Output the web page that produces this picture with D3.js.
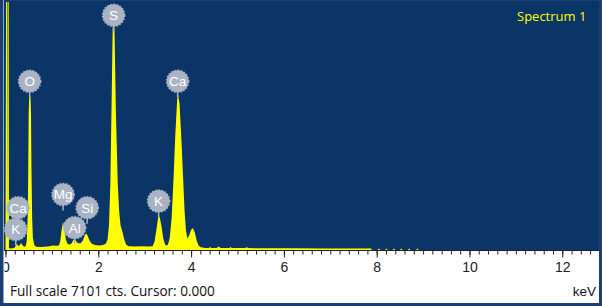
<!DOCTYPE html>
<html>
<head>
<meta charset="utf-8">
<script src="https://cdn.jsdelivr.net/npm/d3@7"></script>
<style>
  body { margin: 0; background: #fff; }
  svg { display: block; }
</style>
</head>
<body>
<div id="chart"></div>
<script>
// spectrum: energy (keV) and counts
var energy = [0.000, 0.012, 0.032, 0.038, 0.045, 0.068, 0.075, 0.10, 0.16, 0.20,
  0.23, 0.25, 0.28, 0.31, 0.34, 0.37, 0.41, 0.44, 0.46, 0.48,
  0.49, 0.50, 0.51, 0.525, 0.54, 0.55, 0.56, 0.575, 0.59, 0.62,
  0.66, 0.75, 0.85, 0.95, 1.02, 1.08, 1.15, 1.18, 1.21, 1.24,
  1.27, 1.30, 1.34, 1.39, 1.43, 1.46, 1.49, 1.52, 1.56, 1.62,
  1.67, 1.71, 1.74, 1.77, 1.81, 1.86, 1.93, 2.02, 2.10, 2.16,
  2.20, 2.23, 2.26, 2.29, 2.31, 2.33, 2.35, 2.38, 2.42, 2.45,
  2.48, 2.52, 2.56, 2.60, 2.66, 2.80, 2.95, 3.08, 3.17, 3.21,
  3.25, 3.29, 3.32, 3.36, 3.40, 3.44, 3.47, 3.50, 3.54, 3.58,
  3.62, 3.66, 3.70, 3.72, 3.75, 3.79, 3.83, 3.86, 3.89, 3.92,
  3.96, 4.00, 4.04, 4.08, 4.12, 4.16, 4.21, 4.30, 4.39, 4.41,
  4.43, 4.55, 4.59, 4.61, 4.63, 4.83, 4.85, 4.87, 5.18, 5.20,
  5.22, 5.6, 6.2, 6.8, 7.4, 7.88, 7.90, 8.02, 8.05, 8.08,
  8.18, 8.21, 8.24, 8.34, 8.37, 8.40, 8.50, 8.53, 8.56, 8.67,
  8.70, 8.73, 8.85, 8.88, 8.91, 12.77];
var counts = [40, 7101, 7101, 300, 7101, 7101, 60, 40, 50, 70,
  140, 170, 110, 150, 200, 130, 90, 120, 300, 1000,
  2200, 3900, 4350, 4450, 4350, 3900, 2300, 900, 350, 140,
  90, 85, 95, 110, 130, 120, 130, 250, 580, 800,
  640, 300, 170, 160, 200, 280, 320, 250, 190, 190,
  280, 430, 470, 410, 270, 180, 140, 130, 140, 180,
  300, 700, 1900, 4500, 6300, 7000, 6200, 3900, 1900, 1100,
  700, 520, 300, 150, 110, 100, 105, 100, 110, 230,
  560, 930, 960, 700, 330, 160, 130, 150, 350, 900,
  2000, 3300, 4300, 4450, 4200, 3200, 2000, 1100, 550, 330,
  420, 580, 630, 500, 270, 130, 80, 60, 60, 95,
  60, 60, 95, 95, 60, 55, 95, 55, 55, 90,
  55, 50, 50, 45, 45, 45, 0, 0, 40, 0,
  0, 40, 0, 0, 40, 0, 0, 40, 0, 0,
  40, 0, 0, 40, 0, 0];

// element markers: name, energy and the count level of the marker
var labelNames = ["S", "O", "Ca", "K", "Mg", "Si", "Al", "Ca", "K"];
var labelKeV = [2.33, 0.52, 3.71, 3.30, 1.24, 1.76, 1.49, 0.27, 0.22];
var labelCts = [6720, 4830, 4830, 1400, 1590, 1210, 640, 1210, 590];

var majorTicks = [0, 2, 4, 6, 8, 10, 12];
var fullScale = 7101;

var width = 602, height = 306;

var svg = d3.select('#chart').append('svg')
  .attr('width', width)
  .attr('height', height);

var x = d3.scaleLinear().domain([0, 12.77]).range([5.5, 598]);
var y = d3.scaleLinear().domain([0, fullScale]).range([250, 2]);

// frame
svg.append('rect').attr('width', width).attr('height', height).attr('fill', '#1b3f6f');
svg.append('rect').attr('x', 4).attr('y', 1).attr('width', 595).attr('height', 249).attr('fill', '#0a3566');
svg.append('rect').attr('x', 4).attr('y', 251).attr('width', 595).attr('height', 52).attr('fill', '#fff');
svg.append('line').attr('x1', 3.5).attr('x2', 3.5).attr('y1', 0).attr('y2', 303)
  .attr('stroke', '#8aa6cc').attr('stroke-width', 1);

svg.append('clipPath').attr('id', 'plotclip')
  .append('rect').attr('x', 4).attr('y', 1).attr('width', 595).attr('height', 250);

var points = energy.map(function(e, i) { return { e: e, c: counts[i] }; });

var area = d3.area()
  .x(function(d) { return x(d.e); })
  .y0(y(0))
  .y1(function(d) { return y(d.c); });

svg.append('path')
  .datum(points)
  .attr('clip-path', 'url(#plotclip)')
  .attr('d', area)
  .attr('fill', '#ffff00');

// axis
svg.append('clipPath').attr('id', 'axisclip')
  .append('rect').attr('x', 4.5).attr('y', 250).attr('width', 595).attr('height', 53);

var axisG = svg.append('g').attr('clip-path', 'url(#axisclip)');

var minor = axisG.append('g')
  .attr('transform', 'translate(0,250.5)')
  .call(d3.axisBottom(x).tickValues(d3.range(0, 12.7, 0.2)).tickSize(4).tickFormat(''));
minor.select('.domain').remove();

var major = axisG.append('g')
  .attr('transform', 'translate(0,250.5)')
  .call(d3.axisBottom(x).tickValues(majorTicks).tickSize(7).tickPadding(5).tickFormat(d3.format('d')));
major.select('.domain').remove();
major.selectAll('text')
  .attr('font-family', 'Liberation Sans, Arial, sans-serif')
  .attr('font-size', 14)
  .attr('fill', '#222');
axisG.selectAll('.tick line').attr('stroke', '#222');

svg.append('line').attr('x1', 4).attr('x2', 599).attr('y1', 250.5).attr('y2', 250.5)
  .attr('stroke', '#222').attr('stroke-width', 1);

// markers
var marks = svg.append('g').selectAll('g')
  .data(labelNames.map(function(n, i) { return { n: n, e: labelKeV[i], c: labelCts[i] }; }))
  .enter().append('g')
  .attr('transform', function(d) { return 'translate(' + x(d.e) + ',' + y(d.c) + ')'; });

marks.append('line')
  .attr('x1', 0).attr('x2', 0).attr('y1', 9).attr('y2', 16)
  .attr('stroke', '#a9b3c4').attr('stroke-width', 1.5);
marks.append('circle')
  .attr('r', 11)
  .attr('fill', '#a9b3c4')
  .attr('stroke', '#a9b3c4')
  .attr('stroke-width', 1.6)
  .attr('stroke-dasharray', '1.6 1.6');
marks.append('text')
  .attr('text-anchor', 'middle')
  .attr('dy', '0.36em')
  .attr('font-family', 'Liberation Sans, Arial, sans-serif')
  .attr('font-size', 13.5)
  .attr('fill', '#fff')
  .text(function(d) { return d.n; });

// texts
svg.append('text')
  .attr('x', 517).attr('y', 21)
  .attr('font-family', 'Open Sans, sans-serif')
  .attr('font-size', 13)
  .attr('fill', '#ffff00')
  .text('Spectrum 1');

svg.append('text')
  .attr('x', 10).attr('y', 296)
  .attr('font-family', 'Open Sans, sans-serif')
  .attr('font-size', 13.6)
  .attr('fill', '#111')
  .text('Full scale ' + fullScale + ' cts. Cursor: 0.000');

svg.append('text')
  .attr('x', 596).attr('y', 296)
  .attr('text-anchor', 'end')
  .attr('font-family', 'Liberation Sans, Arial, sans-serif')
  .attr('font-size', 13.5)
  .attr('fill', '#111')
  .text('keV');
</script>
</body>
</html>
